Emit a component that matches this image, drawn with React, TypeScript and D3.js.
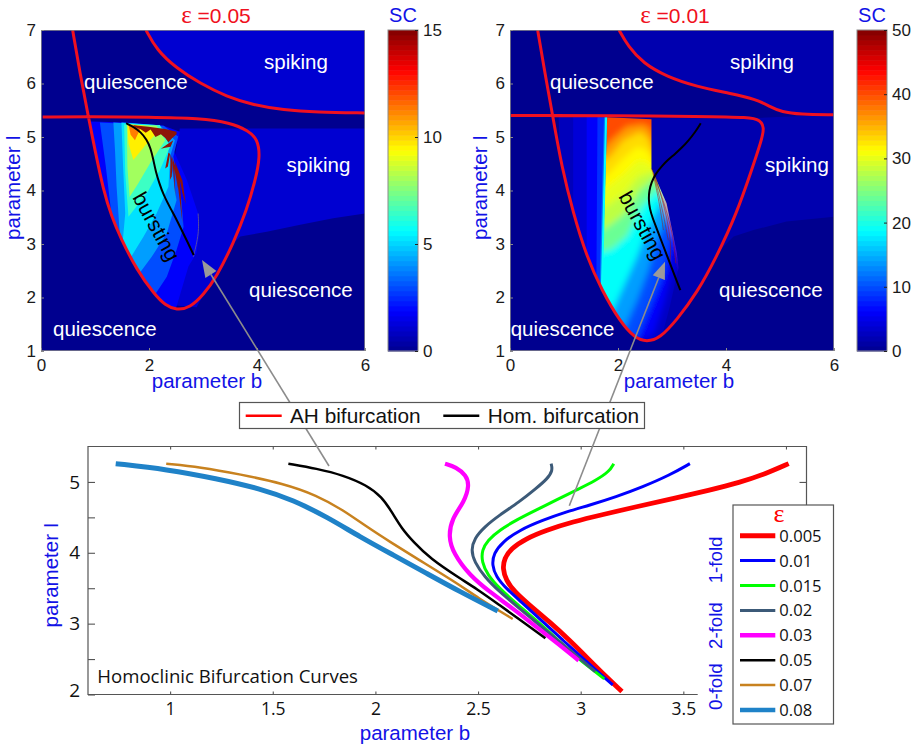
import React, { useEffect, useRef } from 'react';
import * as d3 from 'd3';

type Pt = [number, number];
type Band = { sc: number; pts: Pt[] };

// homoclinic curves, (b, I)
const curve005: Pt[] = [[4.013,5.258],[3.903,5.117],[3.773,4.99],[3.627,4.883],[3.448,4.765],[3.269,4.648],[3.107,4.54],[2.961,4.437],[2.831,4.319],[2.734,4.202],[2.661,4.061],[2.628,3.92],[2.62,3.779],[2.636,3.615],[2.677,3.451],[2.75,3.263],[2.847,3.028],[2.945,2.77],[3.042,2.488],[3.123,2.254],[3.201,2.042]];
const curve01: Pt[] = [[3.532,5.258],[3.432,5.094],[3.302,4.93],[3.172,4.789],[3.042,4.671],[2.929,4.577],[2.815,4.46],[2.701,4.319],[2.62,4.155],[2.576,3.991],[2.568,3.826],[2.588,3.662],[2.636,3.498],[2.718,3.286],[2.815,3.028],[2.912,2.77],[3.01,2.512],[3.091,2.3],[3.156,2.136]];
const curve015: Pt[] = [[3.161,5.258],[3.14,5.15],[3.075,5.023],[2.977,4.883],[2.88,4.742],[2.782,4.601],[2.685,4.46],[2.604,4.319],[2.547,4.178],[2.519,4.038],[2.518,3.873],[2.547,3.685],[2.604,3.498],[2.685,3.286],[2.782,3.052],[2.88,2.793],[2.977,2.535],[3.058,2.347],[3.115,2.221]];
const curve02: Pt[] = [[2.856,5.258],[2.864,5.164],[2.839,5.047],[2.782,4.906],[2.701,4.718],[2.604,4.531],[2.531,4.366],[2.482,4.202],[2.466,4.038],[2.482,3.873],[2.531,3.662],[2.604,3.451],[2.701,3.216],[2.799,2.981],[2.896,2.746],[2.994,2.512],[3.071,2.324]];
const curve03: Pt[] = [[2.339,5.258],[2.393,5.21],[2.442,5.094],[2.458,4.953],[2.433,4.718],[2.372,4.484],[2.356,4.225],[2.38,3.991],[2.458,3.685],[2.555,3.451],[2.669,3.216],[2.782,2.958],[2.896,2.7],[2.99,2.479]];
const curve05: Pt[] = [[1.576,5.258],[1.714,5.188],[1.844,5.094],[1.958,4.953],[2.031,4.789],[2.08,4.577],[2.128,4.343],[2.185,4.155],[2.266,3.92],[2.412,3.638],[2.49,3.498],[2.604,3.263],[2.718,3.028],[2.828,2.793]];
const curve07: Pt[] = [[0.981,5.258],[1.146,5.211],[1.341,5.108],[1.552,4.977],[1.714,4.812],[1.844,4.601],[1.958,4.366],[2.071,4.155],[2.201,3.92],[2.412,3.545],[2.49,3.38],[2.669,3.066]];
const curve08: Pt[] = [[0.735,5.258],[0.984,5.178],[1.227,5.047],[1.438,4.906],[1.601,4.742],[1.763,4.507],[1.925,4.225],[2.088,3.967],[2.25,3.709],[2.412,3.451],[2.596,3.178]];

const epsLabels = ['0.005','0.01','0.015','0.02','0.03','0.05','0.07','0.08'];
const epsCurves = [curve005, curve01, curve015, curve02, curve03, curve05, curve07, curve08];
const epsColors = ['#ff0000','#0000ff','#00ff00','#3c5a78','#ff00ff','#000000','#c8821f','#1f82c8'];
const epsWidths = [4.8, 3, 3, 3, 4.2, 2.5, 2.5, 5];
const epsLegendWidths = [5, 3, 3, 3, 4.5, 2.5, 2.5, 4.5];

// Andronov-Hopf curves
const ahLeft: Pt[] = [[0.586,7],[0.722,6.19],[0.877,5.38],[1.0,4.757],[1.154,4.009],[1.309,3.511],[1.463,3.137],[1.772,2.514],[2.111,2.047],[2.296,1.86],[2.512,1.76],[2.759,1.81],[3.006,2.047],[3.253,2.39],[3.562,3.012],[3.809,3.636],[3.963,4.165],[4.06,4.632],[4.01,4.96],[3.84,5.12],[3.5,5.27],[2.944,5.35],[2.019,5.372],[0.877,5.38],[0.031,5.374]];
const ahLeftUpper: Pt[] = [[1.944,7],[2.142,6.626],[2.512,6.283],[2.944,6.003],[3.438,5.754],[3.932,5.598],[4.488,5.505],[5.105,5.461],[6,5.449]];
const ahRight: Pt[] = [[0.512,7],[0.648,6.19],[0.79,5.4],[0.957,4.445],[1.173,3.573],[1.42,2.763],[1.698,2.14],[2.037,1.548],[2.315,1.24],[2.531,1.17],[2.778,1.24],[3.086,1.579],[3.457,2.078],[3.827,2.763],[4.198,3.573],[4.475,4.383],[4.66,4.944],[4.71,5.18],[4.63,5.32],[4.444,5.37],[3.58,5.385],[1.728,5.4],[0.79,5.4],[0.012,5.4]];
const ahRightUpper: Pt[] = [[2.019,7],[2.191,6.688],[2.469,6.377],[2.901,6.128],[3.457,5.941],[4.074,5.816],[4.568,5.704],[4.815,5.567],[5.031,5.467],[5.37,5.424],[5.988,5.417]];

// spiking background
const spikeLeft: Pt[] = [[2.57,5.16],[6,5.16],[6,3.57],[5.41,3.48],[4.8,3.36],[4.18,3.23],[3.69,3.14],[3.562,3.012],[3.253,2.39],[3.006,2.047],[2.88,1.82],[2.39,1.86],[2.33,3.82]];
const spikeRight: Pt[] = [[4.44,5.35],[6,5.42],[6,3.51],[5.12,3.42],[4.51,3.26],[4.14,3.14],[3.89,2.89],[3.457,2.078],[3.086,1.579],[2.778,1.268],[2.531,1.206],[2.3,1.3],[1.8,5.35]];

// SC levels, eps = 0.05
const bandsLeft: Band[] = [
  { sc: 1.8, pts: [[0.92,5.29],[1.59,5.27],[2.27,5.21],[2.57,5.10],[2.54,4.94],[2.45,4.76],[2.70,4.20],[2.91,3.57],[2.93,3.20],[2.88,2.83],[2.73,2.58],[2.51,1.83],[2.39,1.7],[2.0,2.05],[1.65,2.51],[1.35,3.14],[1.2,3.51],[1.05,4.01],[0.9,4.76]] },
  { sc: 3, pts: [[1.09,5.27],[2.27,5.21],[2.54,5.01],[2.45,4.63],[2.60,3.82],[2.64,3.32],[2.51,2.89],[2.33,2.39],[2.11,2.05],[1.7,2.4],[1.25,3.4],[1.31,3.51],[1.20,4.45]] },
  { sc: 4.2, pts: [[1.34,5.27],[2.20,5.22],[2.48,4.94],[2.39,4.63],[2.51,3.82],[2.33,3.20],[2.05,2.76],[1.80,2.42],[1.5,2.6],[1.46,3.17],[1.40,4.07],[1.37,4.76]] },
  { sc: 5.2, pts: [[1.49,5.27],[2.20,5.22],[2.39,4.63],[2.36,4.07],[2.14,3.57],[1.90,3.14],[1.65,2.73],[1.5,2.9],[1.56,3.57],[1.52,4.45]] },
  { sc: 6.5, pts: [[1.54,5.24],[2.20,5.22],[2.39,4.82],[2.20,4.38],[1.96,3.95],[1.62,3.51],[1.56,4.32]] },
  { sc: 8, pts: [[1.59,5.24],[2.14,5.21],[2.30,4.94],[2.02,4.51],[1.80,4.13],[1.64,3.88],[1.60,4.45]] },
  { sc: 9.6, pts: [[1.60,5.24],[1.90,5.21],[2.14,5.07],[1.96,4.88],[1.71,4.57],[1.62,4.88]] },
  { sc: 11.3, pts: [[1.62,5.24],[1.86,5.19],[1.80,5.07],[1.74,4.94],[1.66,5.04]] },
];
const fanLeft: Pt[][] = [
  [[1.71,5.22],[1.99,5.19],[2.30,5.15],[2.51,5.10],[2.51,5.05],[2.43,4.98],[2.36,4.90],[2.30,4.98],[2.22,5.05],[2.12,5.0],[2.03,5.14],[1.94,5.08],[1.84,5.15],[1.74,5.18]],
  [[2.22,4.78],[2.36,4.88],[2.45,4.94],[2.40,4.82],[2.30,4.80]],
  [[2.30,4.41],[2.36,4.71],[2.39,4.68],[2.35,4.45]],
  [[2.39,4.20],[2.40,4.68],[2.44,4.52],[2.42,4.26]],
  [[2.49,3.85],[2.43,4.63],[2.52,4.35],[2.54,4.02],[2.5,4.25],[2.47,4.4]],
  [[2.62,3.39],[2.48,4.54],[2.62,4.18],[2.68,3.75],[2.62,3.95],[2.57,4.2]],
];
const arcLeft: Pt[] = [[2.91,3.57],[2.93,3.20],[2.82,2.76]];

// SC levels, eps = 0.01
const stripsRight: Band[] = [
  { sc: 2.5, pts: [[0.9,5.37],[1.8,5.37],[1.7,2.14],[1.3,2.14],[0.95,4]] },
  { sc: 4, pts: [[1.17,5.37],[1.8,5.37],[1.7,2.14],[1.45,2.6],[1.17,3.57]] },
  { sc: 6, pts: [[1.42,5.37],[1.8,5.37],[1.7,2.14],[1.42,2.76]] },
  { sc: 8.5, pts: [[1.62,5.37],[1.8,5.37],[1.7,2.14],[1.6,2.3]] },
  { sc: 12, pts: [[1.74,5.37],[1.8,5.37],[1.7,2.14],[1.66,2.2]] },
];
const edgeRight: Pt[] = [[1.78,5.37],[1.7,2.14]];
const outlineRight: Pt[] = [[1.8,5.37],[2.62,5.33],[2.62,4.41],[2.9,3.76],[3.09,2.83],[3.12,2.55],[2.96,1.83],[2.78,1.15],[2.2,1.1],[1.69,2.0],[1.7,2.14]];
const hotRight = 40;
const levelsRight: Band[] = [
  { sc: 36, pts: [[1.6,4.63],[1.88,4.94],[2.16,5.19],[2.47,5.24],[2.59,5.16],[2.72,4.69]] },
  { sc: 33, pts: [[1.6,4.45],[1.85,4.63],[2.1,4.94],[2.41,5.1],[2.56,4.98],[2.72,4.51]] },
  { sc: 31.5, pts: [[1.6,4.2],[1.82,4.3],[2.07,4.57],[2.35,4.82],[2.53,4.76],[2.72,4.45]] },
  { sc: 30, pts: [[1.6,3.88],[1.85,4.1],[2.13,4.32],[2.38,4.57],[2.56,4.51],[2.69,4.38]] },
  { sc: 28, pts: [[1.6,3.57],[1.85,3.75],[2.13,3.95],[2.38,4.26],[2.72,4.38]] },
  { sc: 24, pts: [[1.6,3.2],[1.85,3.35],[2.13,3.57],[2.41,4.01],[2.72,4.26]] },
  { sc: 19, pts: [[1.6,2.83],[1.88,2.9],[2.16,3.14],[2.44,3.7],[2.78,4.07]] },
  { sc: 14, pts: [[1.85,1.64],[2.1,2.2],[2.35,2.76],[2.56,3.32],[2.84,3.88]] },
  { sc: 10, pts: [[2.1,1.39],[2.35,1.95],[2.56,2.51],[2.72,3.07],[2.96,3.57]] },
  { sc: 6, pts: [[2.35,1.24],[2.59,1.83],[2.84,2.45],[2.96,3.07],[3.09,3.2]] },
  { sc: 3, pts: [[2.65,1.3],[2.85,1.9],[3,2.5],[3.1,3]] },
];
const levelClose: Pt[] = [[3.6,0.9],[1.5,0.9]];
const fanRight: Pt[][] = [
  [[2.62,4.41],[2.84,3.82],[3.02,3.2],[3.07,2.64]],
  [[2.69,4.26],[2.9,3.57],[2.99,2.95],[2.96,2.64]],
  [[2.69,4.2],[2.84,3.57],[2.93,3.07]],
  [[2.65,4.32],[2.78,3.7],[2.84,3.26]],
];

const panelBTicks = [0, 2, 4, 6];
const panelITicks = [1, 2, 3, 4, 5, 6, 7];
const sansFont = '"Liberation Sans", Arial, sans-serif';
const myriadFont = '"Open Sans", "Noto Sans", sans-serif';
const labelBlue = '#1212e6';

// jet colormap
const jet = d3.scaleLinear<string>()
  .domain([0, 0.125, 0.375, 0.625, 0.875, 1])
  .range(['#00008f', '#0000ff', '#00ffff', '#ffff00', '#ff0000', '#800000'])
  .clamp(true);

type G = d3.Selection<any, unknown, null, undefined>;

const put = (g: G, str: string, x: number, y: number, size: number, fill: string, anchor = 'start', rot = 0, font = sansFont) =>
  g.append('text')
    .attr('transform', `translate(${x},${y}) rotate(${rot})`)
    .attr('text-anchor', anchor)
    .attr('font-family', font)
    .attr('font-size', size)
    .attr('fill', fill)
    .text(str);

function drawPanel(svg: G, opts: any) {
  const { id, left, maxSC, spikeSC, ah, upper, hom, spike, title, titleX, cbLeft, cbTicks, yTitleX, xTitleX } = opts;
  const x = d3.scaleLinear().domain([0, 6]).range([left, left + 324]);
  const y = d3.scaleLinear().domain([1, 7]).range([351, 30]);
  const poly = d3.line<Pt>().x((d) => x(d[0])).y((d) => y(d[1]));
  const smooth = d3.line<Pt>().x((d) => x(d[0])).y((d) => y(d[1])).curve(d3.curveBasis);
  const color = (sc: number) => jet(sc / maxSC);

  // clip paths : plot box and inside of the AH loop
  const loop = ah.slice(2, ah.length - 1);
  svg.append('clipPath').attr('id', `box${id}`).append('rect').attr('x', left).attr('y', 30).attr('width', 324).attr('height', 321);
  svg.append('clipPath').attr('id', `loop${id}`).append('path').attr('d', smooth(loop) + 'Z');

  const plot = svg.append('g').attr('clip-path', `url(#box${id})`);
  plot.append('rect').attr('x', left).attr('y', 30).attr('width', 324).attr('height', 321).attr('fill', color(0));

  // spiking regions
  plot.append('path').attr('d', smooth(upper) + `L${x(6)},${y(7)}Z`).attr('fill', color(spikeSC));
  plot.append('path').attr('d', poly(spike) + 'Z').attr('fill', color(spikeSC));

  const inner = plot.append('g').attr('clip-path', `url(#loop${id})`);
  opts.paint(inner, { x, y, poly, smooth, color });

  // AH and homoclinic curves
  plot.append('path').attr('d', smooth(ah)).attr('fill', 'none').attr('stroke', '#f01020').attr('stroke-width', 3);
  plot.append('path').attr('d', smooth(upper)).attr('fill', 'none').attr('stroke', '#f01020').attr('stroke-width', 3);
  plot.append('path').attr('d', smooth(hom)).attr('fill', 'none').attr('stroke', '#000').attr('stroke-width', 2);

  plot.append('rect').attr('x', left).attr('y', 30).attr('width', 324).attr('height', 321)
    .attr('fill', 'none').attr('stroke', '#8a8a8a').attr('stroke-width', 1.5);

  // axes
  const axB = svg.append('g').attr('transform', 'translate(0,351)')
    .call(d3.axisBottom(x).tickValues(panelBTicks).tickSize(-3).tickPadding(8).tickFormat(d3.format('d') as any));
  const axI = svg.append('g').attr('transform', `translate(${left},0)`)
    .call(d3.axisLeft(y).tickValues(panelITicks).tickSize(-3).tickPadding(5).tickFormat(d3.format('d') as any));
  [axB, axI].forEach((a) => {
    a.select('.domain').remove();
    a.selectAll('line').attr('stroke', '#8a8a8a');
    a.selectAll('text').attr('font-family', sansFont).attr('font-size', 17).attr('fill', '#1a1a1a');
  });

  // colorbar
  const cb = d3.scaleLinear().domain([0, maxSC]).range([351, 30]);
  const steps = d3.range(0, 64);
  svg.append('g').selectAll('rect').data(steps).enter().append('rect')
    .attr('x', cbLeft)
    .attr('width', 30)
    .attr('y', (d) => cb(((d + 1) / 64) * maxSC))
    .attr('height', 321 / 64 + 0.5)
    .attr('fill', (d) => jet((d + 0.5) / 64));
  svg.append('rect').attr('x', cbLeft).attr('y', 30).attr('width', 30).attr('height', 321)
    .attr('fill', 'none').attr('stroke', '#8a8a8a').attr('stroke-width', 1);
  const axC = svg.append('g').attr('transform', `translate(${cbLeft + 30},0)`)
    .call(d3.axisRight(cb).tickValues(cbTicks).tickSize(-3).tickPadding(5));
  axC.select('.domain').remove();
  axC.selectAll('line').attr('stroke', '#222');
  axC.selectAll('text').attr('font-family', sansFont).attr('font-size', 17).attr('fill', '#1a1a1a');

  // titles
  const t = put(svg, '', titleX, 23, 21, '#f01020', 'middle');
  t.append('tspan').attr('font-family', '"Liberation Serif", serif').attr('font-size', 25).text('ε');
  t.append('tspan').text(` =${title}`);
  put(svg, 'SC', cbLeft + 15, 22, 20, labelBlue, 'middle');
  put(svg, 'parameter b', xTitleX, 388, 20.5, labelBlue, 'middle');
  put(svg, 'parameter I', yTitleX, 187.5, 20.5, labelBlue, 'middle', -90);
}

const App = () => {
  const ref = useRef<SVGSVGElement>(null);

  useEffect(() => {
    const svg: G = d3.select(ref.current);
    svg.selectAll('*').remove();

    svg.append('filter').attr('id', 'soft').append('feGaussianBlur').attr('stdDeviation', 3);

    // eps = 0.05
    drawPanel(svg, {
      id: 'L', left: 41, maxSC: 15, spikeSC: 1.1, ah: ahLeft, upper: ahLeftUpper, hom: curve05, spike: spikeLeft,
      title: '0.05', titleX: 216, cbLeft: 388, cbTicks: [0, 5, 10, 15], yTitleX: 20, xTitleX: 207,
      paint: (g: G, s: any) => {
        bandsLeft.forEach((b) => g.append('path').attr('d', s.poly(b.pts) + 'Z').attr('fill', s.color(b.sc)));
        fanLeft.forEach((f) => g.append('path').attr('d', s.poly(f) + 'Z').attr('fill', '#8e1408'));
        g.append('path').attr('d', s.smooth(arcLeft)).attr('fill', 'none').attr('stroke', '#6a5a90').attr('stroke-width', 0.8);
      },
    });

    // eps = 0.01
    drawPanel(svg, {
      id: 'R', left: 510, maxSC: 50, spikeSC: 1.8, ah: ahRight, upper: ahRightUpper, hom: curve01, spike: spikeRight,
      title: '0.01', titleX: 675, cbLeft: 857, cbTicks: [0, 10, 20, 30, 40, 50], yTitleX: 487, xTitleX: 679,
      paint: (g: G, s: any) => {
        stripsRight.forEach((b) => g.append('path').attr('d', s.poly(b.pts) + 'Z').attr('fill', s.color(b.sc)));
        g.append('clipPath').attr('id', 'mainR').append('path').attr('d', s.poly(outlineRight) + 'Z');
        const main = g.append('g').attr('clip-path', 'url(#mainR)');
        const soft = main.append('g').attr('filter', 'url(#soft)');
        soft.append('path').attr('d', s.poly(outlineRight) + 'Z').attr('fill', s.color(hotRight)).attr('stroke', s.color(hotRight)).attr('stroke-width', 14);
        levelsRight.forEach((b) => soft.append('path').attr('d', s.poly([...b.pts, ...levelClose]) + 'Z').attr('fill', s.color(b.sc)));
        g.append('path').attr('d', s.poly(edgeRight)).attr('stroke', s.color(19)).attr('stroke-width', 2).attr('fill', 'none');
        fanRight.forEach((f) => g.append('path').attr('d', s.smooth(f)).attr('fill', 'none').attr('stroke', '#a01810').attr('stroke-width', 0.8).attr('opacity', 0.65));
      },
    });

    // region names
    const white = svg.append('g');
    [
      ['spiking', 264, 69], ['quiescence', 84, 88.5], ['spiking', 286.5, 172], ['quiescence', 249, 297], ['quiescence', 53, 336],
      ['spiking', 730, 69], ['quiescence', 550, 88.5], ['spiking', 765, 172], ['quiescence', 719, 297], ['quiescence', 510.7, 336],
    ].forEach(([s, px, py]) => put(white, s as string, px as number, py as number, 20.5, '#ffffff'));
    put(svg, 'bursting', 150, 230, 21, '#000', 'middle', 61);
    put(svg, 'bursting', 636, 229, 21, '#000', 'middle', 61);

    // homoclinic curves panel
    const xB = d3.scaleLinear().domain([0.6, 4.1]).range([88, 806.5]);
    const yB = d3.scaleLinear().domain([2, 5.5]).range([694.5, 446.5]);
    const line = d3.line<Pt>().x((d) => xB(d[0])).y((d) => yB(d[1])).curve(d3.curveBasis);
    const bottom = svg.append('g');

    const frame = d3.path();
    frame.moveTo(xB(3.57), yB(2));
    frame.lineTo(xB(0.6), yB(2));
    frame.lineTo(xB(0.6), yB(5.5));
    frame.lineTo(xB(4.1), yB(5.5));
    frame.lineTo(xB(4.1), yB(4.5));
    bottom.append('path').attr('d', frame.toString()).attr('fill', 'none').attr('stroke', '#555').attr('stroke-width', 1.2);

    const axes = [
      bottom.append('g').attr('transform', `translate(0,${yB(2)})`)
        .call(d3.axisBottom(xB).tickValues([1, 1.5, 2, 2.5, 3, 3.5]).tickSize(-3).tickPadding(8).tickFormat((d) => String(d))),
      bottom.append('g').attr('transform', `translate(0,${yB(5.5)})`)
        .call(d3.axisTop(xB).tickValues([1, 1.5, 2, 2.5, 3, 3.5, 4]).tickSize(-3).tickFormat(() => '')),
      bottom.append('g').attr('transform', `translate(${xB(0.6)},0)`)
        .call(d3.axisLeft(yB).tickValues([2, 2.5, 3, 3.5, 4, 4.5, 5]).tickSize(-7).tickPadding(8).tickFormat((d) => (Number.isInteger(d) ? String(d) : ''))),
      bottom.append('g').attr('transform', `translate(${xB(4.1)},0)`)
        .call(d3.axisRight(yB).tickValues([5]).tickSize(-7).tickFormat(() => '')),
    ];
    axes.forEach((a, i) => {
      a.select('.domain').remove();
      a.selectAll('line').attr('stroke', '#555').attr('stroke-width', 1.1);
      a.selectAll('text').attr('font-family', myriadFont).attr('font-size', i === 2 ? 19 : 17.5).attr('fill', '#111');
    });
    // the "2" sits a little above its tick in the reference
    axes[2].selectAll('.tick text').filter((d: any) => d === 2).attr('dy', '0.12em');

    epsCurves.forEach((c, i) => {
      bottom.append('path').attr('d', line(c)).attr('fill', 'none').attr('stroke', epsColors[i]).attr('stroke-width', epsWidths[i]);
    });

    put(bottom, 'Homoclinic Bifurcation Curves', 97.3, 683.3, 18.6, '#111', 'start', 0, myriadFont);
    put(bottom, 'parameter b', 415, 740, 20.5, labelBlue, 'middle');
    put(bottom, 'parameter I', 58, 575, 20.5, labelBlue, 'middle', -90);
    put(bottom, '0-fold', 722, 710, 18.7, labelBlue, 'start', -90);
    put(bottom, '2-fold', 722, 649, 18.7, labelBlue, 'start', -90);
    put(bottom, '1-fold', 722, 583.3, 18.7, labelBlue, 'start', -90);

    // pointers from the legend to the panels
    const arrow = (x0: number, y0: number, x1: number, y1: number) => {
      const a = Math.atan2(y1 - y0, x1 - x0);
      const hx = x1 - 17 * Math.cos(a);
      const hy = y1 - 17 * Math.sin(a);
      svg.append('line').attr('x1', x0).attr('y1', y0).attr('x2', hx).attr('y2', hy).attr('stroke', '#8c8c8c').attr('stroke-width', 1.6);
      svg.append('polygon')
        .attr('points', `${x1},${y1} ${hx + 6.5 * Math.sin(a)},${hy - 6.5 * Math.cos(a)} ${hx - 6.5 * Math.sin(a)},${hy + 6.5 * Math.cos(a)}`)
        .attr('fill', '#9a9a9a');
    };
    arrow(329, 466, 202, 260);
    arrow(569.3, 505.7, 665, 261.7);

    // top legend
    const lg = svg.append('g');
    lg.append('rect').attr('x', 239.5).attr('y', 402.5).attr('width', 405).attr('height', 26)
      .attr('fill', '#fff').attr('stroke', '#555').attr('stroke-width', 1.2);
    lg.append('line').attr('x1', 245.7).attr('x2', 281.7).attr('y1', 415.7).attr('y2', 415.7).attr('stroke', '#ff0000').attr('stroke-width', 2.6);
    put(lg, 'AH bifurcation', 290, 423, 20.8, '#111');
    lg.append('line').attr('x1', 443.3).attr('x2', 479.3).attr('y1', 415.7).attr('y2', 415.7).attr('stroke', '#000').attr('stroke-width', 2.6);
    put(lg, 'Hom. bifurcation', 487.7, 423, 20.8, '#111');

    // epsilon legend
    const le = svg.append('g');
    le.append('rect').attr('x', 733).attr('y', 505).attr('width', 100.5).attr('height', 219)
      .attr('fill', '#fff').attr('stroke', '#555').attr('stroke-width', 1.2);
    put(le, 'ε', 779, 522, 26, '#ff0000', 'middle', 0, '"Liberation Serif", serif');
    epsLabels.forEach((lab, i) => {
      const yy = 535.7 + i * 24.9;
      le.append('line').attr('x1', 740).attr('x2', 775.3).attr('y1', yy).attr('y2', yy)
        .attr('stroke', epsColors[i]).attr('stroke-width', epsLegendWidths[i]);
      put(le, lab, 779.3, yy + 6, 16.6, '#111', 'start', 0, myriadFont);
    });
  }, []);

  return (
    <svg ref={ref} width={916} height={747} style={{ position: 'absolute', left: 0, top: 0, background: '#fff' }} />
  );
};

export default App;
